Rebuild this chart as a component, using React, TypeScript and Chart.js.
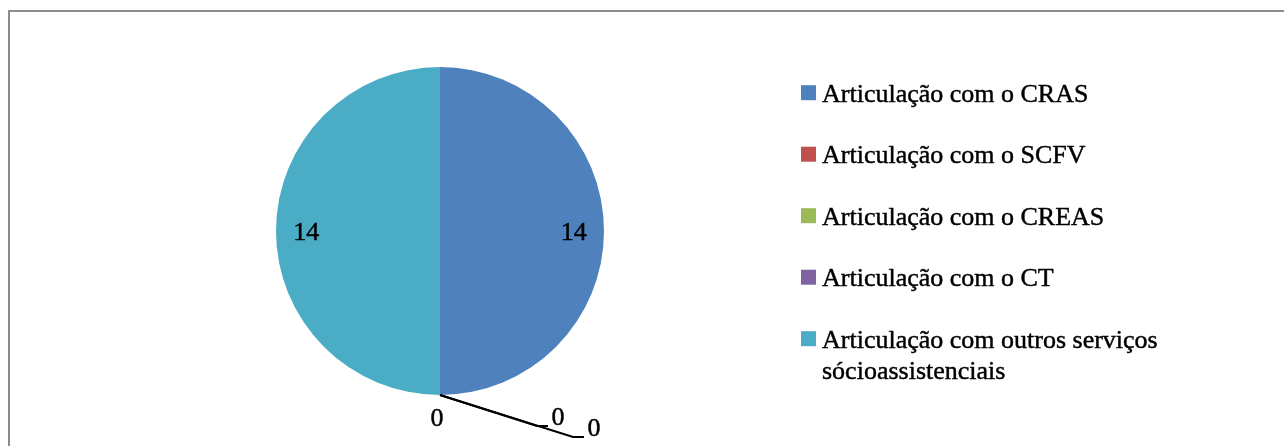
import React, { useEffect, useRef } from "react";
import { Chart, registerables } from "chart.js";

Chart.register(...registerables);

const categories: string[] = [
  "Articulação com o CRAS",
  "Articulação com o SCFV",
  "Articulação com o CREAS",
  "Articulação com o CT",
  "Articulação com outros serviços sócioassistenciais",
];
const values: number[] = [14, 0, 0, 0, 14];
const colors: string[] = ["#4F81BD", "#C0504D", "#9BBB59", "#8064A2", "#4BACC6"];
const zeroLabelOffsets: [number, number, boolean][] = [
  [0, 0, false],
  [-3, 24, false],
  [118, 23, true],
  [154, 34, true],
  [0, 0, false],
];

const FONT = "26px 'Liberation Serif', serif";

function drawText(ctx: CanvasRenderingContext2D, t: string, x: number, y: number) {
  ctx.fillText(t, x, y);
  ctx.lineWidth = 0.45;
  ctx.strokeStyle = "#000";
  ctx.strokeText(t, x, y);
}

const labelsPlugin = {
  id: "pieLabels",
  afterDatasetsDraw(chart: any) {
    const ctx = chart.ctx as CanvasRenderingContext2D;
    const meta = chart.getDatasetMeta(0);
    const data = chart.data.datasets[0].data as number[];
    ctx.save();
    ctx.font = FONT;
    ctx.fillStyle = "#000";
    ctx.textAlign = "center";
    ctx.textBaseline = "middle";
    meta.data.forEach((arc: any, i: number) => {
      const p = arc.getProps(["x", "y", "startAngle", "endAngle", "outerRadius"], true);
      const v = data[i];
      if (v > 0) {
        const a = (p.startAngle + p.endAngle) / 2;
        const r = p.outerRadius * 0.815;
        drawText(ctx, String(v), p.x + Math.cos(a) * r, p.y + Math.sin(a) * r + 2);
      } else {
        const a = p.startAngle;
        const ax = p.x + Math.cos(a) * p.outerRadius;
        const ay = p.y + Math.sin(a) * p.outerRadius;
        const [dx, dy, leader] = zeroLabelOffsets[i];
        const lx = ax + dx;
        const ly = ay + dy;
        if (leader) {
          ctx.beginPath();
          ctx.strokeStyle = "#000";
          ctx.lineWidth = 2;
          ctx.moveTo(ax, ay);
          ctx.lineTo(lx - 21, ly + 8);
          ctx.lineTo(lx - 10, ly + 8);
          ctx.stroke();
        }
        drawText(ctx, String(v), lx, ly);
      }
    });
    ctx.restore();
  },
};

const frameAndLegendPlugin = {
  id: "frameLegend",
  beforeDraw(chart: any) {
    const ctx = chart.ctx as CanvasRenderingContext2D;
    ctx.save();
    ctx.fillStyle = "#fff";
    ctx.fillRect(0, 0, chart.width, chart.height);
    ctx.strokeStyle = "#8c8c8c";
    ctx.lineWidth = 2;
    ctx.strokeRect(9, 11, 1400, 600);
    ctx.restore();
  },
  afterDraw(chart: any) {
    const ctx = chart.ctx as CanvasRenderingContext2D;
    ctx.save();
    ctx.font = FONT;
    ctx.textAlign = "left";
    ctx.textBaseline = "alphabetic";
    const boxX = 801;
    const textX = 822;
    const maxW = 390;
    const pitch = 61.5;
    const lineH = 31.5;
    let baseline = 101.7;
    categories.forEach((label, i) => {
      ctx.fillStyle = colors[i];
      ctx.fillRect(boxX, baseline - 16.5, 15, 15);
      const words = label.split(" ");
      const lines: string[] = [];
      let cur = "";
      words.forEach((w) => {
        const t = cur ? cur + " " + w : w;
        if (ctx.measureText(t).width > maxW && cur) {
          lines.push(cur);
          cur = w;
        } else cur = t;
      });
      if (cur) lines.push(cur);
      ctx.fillStyle = "#000";
      lines.forEach((ln, j) => drawText(ctx, ln, textX, baseline + j * lineH));
      baseline += pitch;
    });
    ctx.restore();
  },
};

export default function App() {
  const ref = useRef<HTMLCanvasElement | null>(null);
  useEffect(() => {
    if (!ref.current) return;
    const chart = new Chart(ref.current, {
      type: "pie",
      data: {
        labels: categories,
        datasets: [
          {
            data: values,
            backgroundColor: colors,
            borderWidth: 0,
          },
        ],
      },
      options: {
        responsive: false,
        animation: false,
        devicePixelRatio: 1,
        layout: { padding: { left: 276, right: 680, top: 67, bottom: 51 } },
        plugins: {
          legend: { display: false },
          tooltip: { enabled: false },
        },
      },
      plugins: [frameAndLegendPlugin, labelsPlugin],
    });
    return () => chart.destroy();
  }, []);
  return (
    <div style={{ position: "fixed", left: 0, top: 0, width: 1284, height: 446, background: "#fff" }}>
      <canvas ref={ref} width={1284} height={446} style={{ display: "block", width: 1284, height: 446 }} />
    </div>
  );
}
